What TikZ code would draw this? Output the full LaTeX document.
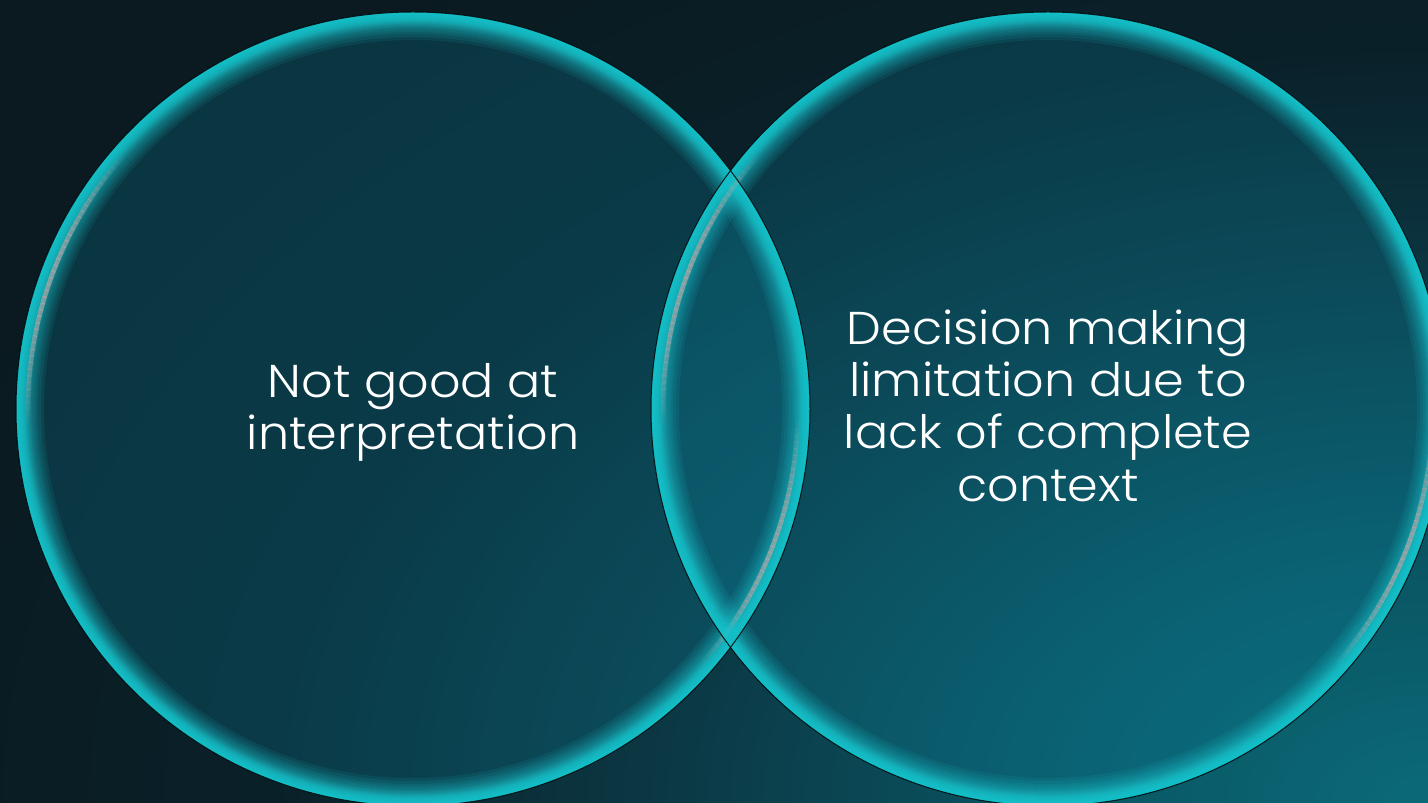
\documentclass[tikz,border=0pt]{standalone}
\usepackage{fontspec}
\IfFontExistsTF{Poppins Light}{\setmainfont{Poppins Light}[FakeStretch=1.07]}{\setmainfont{Poppins}[FakeStretch=1.07]}
\usetikzlibrary{calc}
\definecolor{bgdark}{HTML}{0A1A20}
\definecolor{bgdark2}{HTML}{0A2029}
\definecolor{bgmid}{HTML}{0B3844}
\definecolor{bgmid2}{HTML}{0A5462}
\definecolor{bgteal}{HTML}{0B6A78}
\definecolor{rim}{HTML}{1CC6CE}
\definecolor{fillc}{HTML}{0C8AA4}
\definecolor{hl}{HTML}{B0A8A8}
\pgfdeclareradialshading{bgsh}{\pgfpoint{0bp}{0bp}}{color(0bp)=(bgteal); color(6bp)=(bgmid2); color(12bp)=(bgmid); color(18bp)=(bgdark2); color(25bp)=(bgdark); color(50bp)=(bgdark)}
\tikzset{
  vennfill/.style={fill=fillc, fill opacity=0.25},
  vennline/.style={draw=black, line width=1pt, opacity=0.85},
  label/.style={text=white, align=center, font=\fontsize{46}{52.3}\selectfont, inner sep=0pt}
}
\begin{document}
\begin{tikzpicture}[x=1pt,y=1pt]
\useasboundingbox (0,0) rectangle (1428,803);
\begin{scope}
  \clip (0,0) rectangle (1428,803);
  \fill[bgdark] (0,0) rectangle (1428,803);
  \shade[shading=bgsh] (1428,0) ellipse[x radius=1600pt, y radius=1050pt];
\end{scope}
\coordinate (L) at (413,394);
\coordinate (R) at (1048,394);
\begin{scope}
  \clip (0,0) rectangle (1428,803);
  \fill[vennfill] (L) circle[radius=397pt];
  \fill[vennfill] (R) circle[radius=397pt];
  \foreach \c in {L,R}{
    \begin{scope}
      \clip (\c) circle[radius=397pt];
      \foreach \w in {1,1.5,2,2.5,3,3.5,4,4.5,5,5.5,6,6.5,7,7.5,8,8.5,9,9.5,10,10.5,11,11.5,12,13,14,15,16,18,20,22,25,28}{
        \pgfmathsetmacro\lw{2*\w}
        \draw[rim, line width=\lw pt, opacity=0.1] (\c) circle[radius=397pt];
      }
    \end{scope}
    \begin{scope}[shift={(\c)}]
      \foreach \a in {138,...,181}{
        \pgfmathsetmacro\op{0.7*sin((\a-138)/44*180)}
        \draw[hl, line width=4.5pt, opacity=\op] (\a:385) arc[start angle=\a, end angle=\a+1.15, radius=385pt];
      }
      \foreach \a in {-42,...,-3}{
        \pgfmathsetmacro\op{0.7*sin((\a+42)/40*180)}
        \draw[hl, line width=4.5pt, opacity=\op] (\a:385) arc[start angle=\a, end angle=\a+1.15, radius=385pt];
      }
    \end{scope}
  }
  \draw[vennline] (L) circle[radius=397pt];
  \draw[vennline] (R) circle[radius=397pt];
\end{scope}
\node[label] (t1) at (413,390.5) {Not good at\\interpretation};
\node[label] (t2) at (1048,397.5) {Decision making\\limitation due to\\lack of complete\\context};
\end{tikzpicture}
\end{document}
